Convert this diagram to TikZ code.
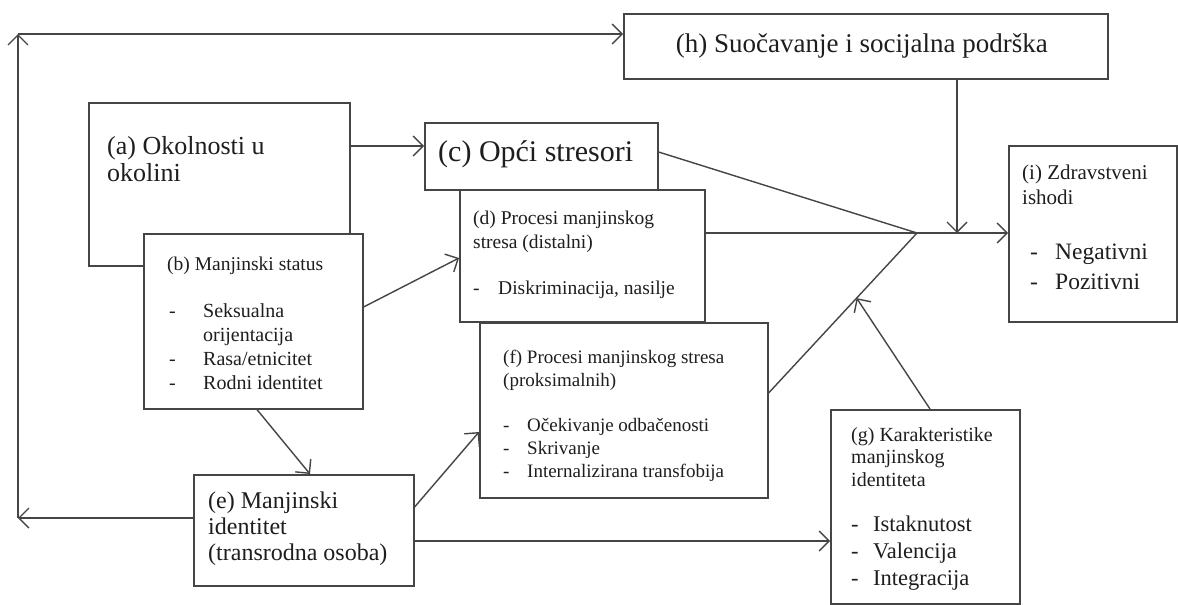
\documentclass[tikz,border=0pt]{standalone}
\usepackage{fontspec}
\setmainfont{Liberation Serif}
\usetikzlibrary{arrows.meta,calc}
\definecolor{linec}{HTML}{454545}
\definecolor{txtc}{HTML}{1E1E1E}
\newcommand\dashitem[2]{\makebox[#1][l]{-}#2}
\begin{document}
\begin{tikzpicture}[x=1pt,y=-1pt,
 box/.style={draw=linec,line width=1.6pt,fill=white,inner sep=0pt,anchor=north west},
 arr/.style={draw=linec,line width=1.4pt,-{Straight Barb[length=10pt,width=20pt,line width=1.4pt]}},
 ln/.style={draw=linec,line width=1.4pt},
 txt/.style={text=txtc,inner sep=0pt,anchor=north west,align=left},
]
\fill[white] (0,0) rectangle (1178,605);
\useasboundingbox (0,0) rectangle (1178,605);

% boxes
\node[box,minimum width=484pt,minimum height=65pt] (h) at (623,13) {};
\node[box,minimum width=261pt,minimum height=163pt] (a) at (88,102) {};
\node[box,minimum width=219pt,minimum height=175pt] (b) at (143,233) {};
\node[box,minimum width=233pt,minimum height=67pt] (c) at (424,122) {};
\node[box,minimum width=245pt,minimum height=132pt] (d) at (459,189) {};
\node[box,minimum width=288pt,minimum height=175pt] (f) at (479,322) {};
\node[box,minimum width=220pt,minimum height=111pt] (e) at (193,474) {};
\node[box,minimum width=189pt,minimum height=194pt] (g) at (830,409) {};
\node[box,minimum width=168pt,minimum height=176pt] (i) at (1008,145) {};

% texts
\node[txt,anchor=center,font=\fontsize{27}{30}\selectfont] (ht) at ([xshift=-4pt]h.center) {(h) Suočavanje i socijalna podrška};
\node[txt,anchor=west,font=\fontsize{30}{34}\selectfont] (ct) at ([xshift=14pt,yshift=2pt]c.west) {(c) Opći stresori};
\node[txt,font=\fontsize{26}{27}\selectfont] (at) at (107,136) {(a) Okolnosti u\\okolini};
\node[txt,font=\fontsize{19.5}{24}\selectfont] (bt) at (167,257) {(b) Manjinski status};
\node[txt,font=\fontsize{20}{24}\selectfont] (bl) at (169,303) {\dashitem{34pt}{Seksualna}\\\hspace*{34pt}orijentacija\\\dashitem{34pt}{Rasa/etnicitet}\\\dashitem{34pt}{Rodni identitet}};
\node[txt,font=\fontsize{19.5}{24}\selectfont] (dt) at (473,211) {(d) Procesi manjinskog\\stresa (distalni)\\[22pt]\dashitem{25pt}{Diskriminacija, nasilje}};
\node[txt,font=\fontsize{19}{23}\selectfont] (ft) at (503,350) {(f) Procesi manjinskog stresa\\(proksimalnih)\\[22pt]\dashitem{24pt}{Očekivanje odbačenosti}\\\dashitem{24pt}{Skrivanje}\\\dashitem{24pt}{Internalizirana transfobija}};
\node[txt,font=\fontsize{20}{22.5}\selectfont] (gt) at (851,427) {(g) Karakteristike\\manjinskog\\identiteta};
\node[txt,font=\fontsize{22.5}{27}\selectfont] (gl) at (851,516) {\dashitem{22pt}{Istaknutost}\\\dashitem{22pt}{Valencija}\\\dashitem{22pt}{Integracija}};
\node[txt,font=\fontsize{21}{25}\selectfont] (it) at (1022,165) {(i) Zdravstveni\\ishodi};
\node[txt,font=\fontsize{23.5}{30}\selectfont] (il) at (1030,244) {\dashitem{25pt}{Negativni}\\\dashitem{25pt}{Pozitivni}};
\node[txt,font=\fontsize{24}{26}\selectfont] (et) at (208,492) {(e) Manjinski\\identitet\\(transrodna osoba)};

% coordinates
\coordinate (M) at (917,233);
\coordinate (L1) at (18,518);
\coordinate (L2) at (18,34);
\coordinate (hd) at ([xshift=334pt]h.south west);
\coordinate (fs) at ([yshift=-71pt]f.north east);
\coordinate (P) at ($(fs)!0.593!(M)$);

% connectors
\draw[arr] ([yshift=-44pt]a.north east) -- ([yshift=-24pt]c.north west);
\draw[arr] ([yshift=-74pt]b.north east) -- ([yshift=-69pt]d.north west);
\draw[arr] ([xshift=114pt]b.south west) -- ([xshift=117pt]e.north west);
\draw[arr] ([yshift=-33pt]e.north east) -- ([yshift=-110pt]f.north west);
\draw[arr] ([yshift=-67pt]e.north east) -- ([yshift=-132pt]g.north west);
\draw[arr] ([yshift=-44pt]e.north west) -- (L1);
\draw[arr] (L1) -- (L2);
\draw[arr] (L2) -- ([yshift=-21pt]h.north west);
\draw[ln] ([yshift=-30pt]c.north east) -- (M);
\draw[ln] ([yshift=-44pt]d.north east) -- (M);
\draw[ln] (fs) -- (M);
\draw[arr] (M) -- (i.west |- M);
\draw[arr] (hd) -- (hd |- M);
\draw[arr] ([xshift=100pt]g.north west) -- (P);
\end{tikzpicture}
\end{document}
